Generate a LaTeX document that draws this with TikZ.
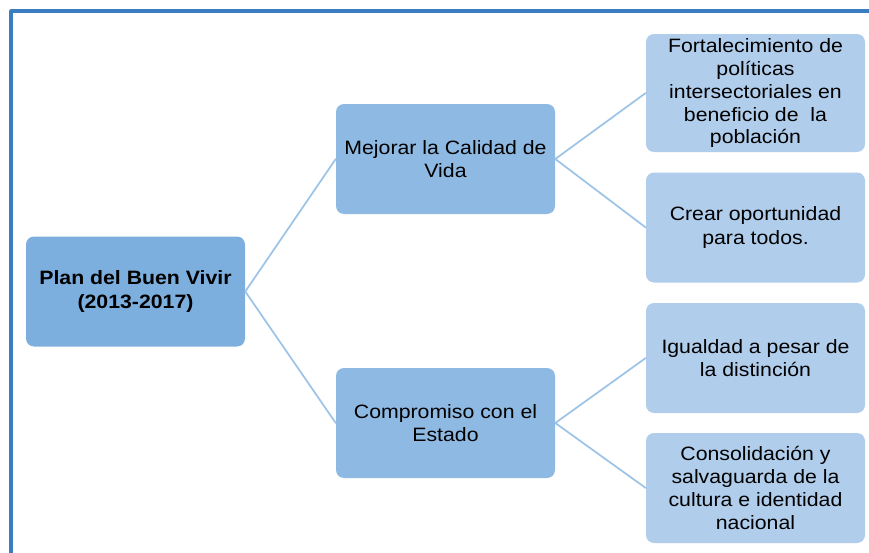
\documentclass[tikz,border=0pt]{standalone}
\usepackage{fontspec}
\setmainfont{Liberation Sans}[FakeStretch=1.1]
\usetikzlibrary{positioning}
\definecolor{framblue}{HTML}{3A7DC0}
\definecolor{rootblue}{HTML}{7DAFDE}
\definecolor{midblue}{HTML}{8EB9E3}
\definecolor{leafblue}{HTML}{B0CDEB}
\definecolor{lineblue}{HTML}{9DC3E6}

\begin{document}
\begin{tikzpicture}[x=0.75pt,y=-0.75pt,line cap=round,line join=round,
  box/.style={draw=none,rounded corners=6pt,align=center,inner sep=2pt,
    font=\fontsize{14.5}{17.25}\selectfont,minimum width=164.25pt,minimum height=82.5pt},
  rootbox/.style={box,fill=rootblue,font=\fontsize{14.5}{17.25}\selectfont\bfseries},
  midbox/.style={box,fill=midblue},
  leafbox/.style={box,fill=leafblue},
  link/.style={draw=lineblue,line width=1.3pt}]
\useasboundingbox (0,0) rectangle (869,553);
\draw [color=framblue, line width=2.3pt, line cap=butt] (11,553) -- (11,11) -- (869,11);
\node[rootbox] (plan) at (135.5,291.5) {Plan del Buen Vivir\\(2013-2017)};
\node[midbox] (calidad) at (445.5,159) {Mejorar la Calidad de\\Vida};
\node[midbox] (estado) at (445.5,423) {Compromiso con el\\Estado};
\node[leafbox,minimum height=88.5pt] (politicas) at (755.5,93) {Fortalecimiento de\\pol\'iticas\\intersectoriales en\\beneficio de\ \ la\\poblaci\'on};
\node[leafbox] (oportunidad) at (755.5,227.5) {Crear oportunidad\\para todos.};
\node[leafbox] (igualdad) at (755.5,358) {Igualdad a pesar de\\la distinci\'on};
\node[leafbox] (cultura) at (755.5,488) {Consolidaci\'on y\\salvaguarda de la\\cultura e identidad\\nacional};
\draw[link] (plan.east) -- (calidad.west);
\draw[link] (plan.east) -- (estado.west);
\draw[link] (calidad.east) -- (politicas.west);
\draw[link] (calidad.east) -- (oportunidad.west);
\draw[link] (estado.east) -- (igualdad.west);
\draw[link] (estado.east) -- (cultura.west);
\end{tikzpicture}
\end{document}
